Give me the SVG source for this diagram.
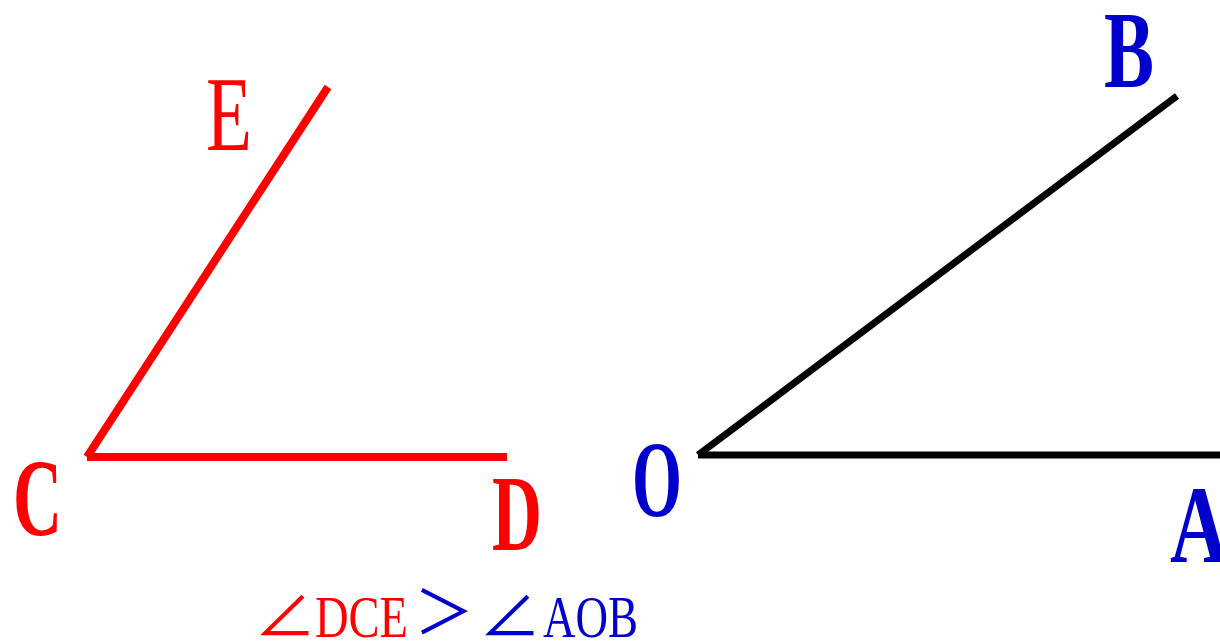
<svg xmlns="http://www.w3.org/2000/svg" width="1220" height="644" viewBox="0 0 1220 644">
<style>
.lbl{font-family:"Liberation Serif","Times New Roman",serif;font-weight:bold;}
.red{fill:#ff0000;}
.blue{fill:#0000cc;}
.eq{font-family:"Liberation Serif","Noto Sans CJK SC",serif;font-size:60px;}
.sym{font-family:"Noto Sans CJK SC","DejaVu Sans",sans-serif;font-size:60px;}
</style>
<rect width="1220" height="644" fill="#ffffff"/>
<g id="connectors" stroke-linecap="butt" fill="none">
  <line x1="87" y1="457" x2="328" y2="87" stroke="#ff0000" stroke-width="8"/>
  <line x1="87" y1="457" x2="507" y2="457" stroke="#ff0000" stroke-width="8"/>
  <line x1="698" y1="455" x2="1177" y2="96" stroke="#000000" stroke-width="7"/>
  <line x1="698" y1="455" x2="1220" y2="455" stroke="#000000" stroke-width="7"/>
</g>
<g id="node-E"><text class="lbl red" x="206" y="150" font-size="106" textLength="46" lengthAdjust="spacingAndGlyphs" style="font-weight:normal">E</text></g>
<g id="node-C"><text class="lbl red" x="13" y="535" font-size="110" textLength="49" lengthAdjust="spacingAndGlyphs">C</text></g>
<g id="node-D"><text class="lbl red" x="492" y="550" font-size="108" textLength="50" lengthAdjust="spacingAndGlyphs">D</text></g>
<g id="node-O"><text class="lbl blue" x="632" y="516" font-size="108" textLength="50" lengthAdjust="spacingAndGlyphs">O</text></g>
<g id="node-A"><text class="lbl blue" x="1170" y="562" font-size="110" textLength="58" lengthAdjust="spacingAndGlyphs">A</text></g>
<g id="node-B"><text class="lbl blue" x="1104" y="87" font-size="110" textLength="50" lengthAdjust="spacingAndGlyphs">B</text></g>
<g id="caption">
  <text class="sym red" x="254" y="637" textLength="62" lengthAdjust="spacingAndGlyphs">∠</text>
  <text class="eq red" x="315" y="637" textLength="93" lengthAdjust="spacingAndGlyphs">DCE</text>
  <text class="sym blue" x="414" y="634" textLength="60" lengthAdjust="spacingAndGlyphs">＞</text>
  <text class="sym blue" x="479" y="637" textLength="62" lengthAdjust="spacingAndGlyphs">∠</text>
  <text class="eq blue" x="543" y="637" textLength="95" lengthAdjust="spacingAndGlyphs">AOB</text>
</g>
</svg>
